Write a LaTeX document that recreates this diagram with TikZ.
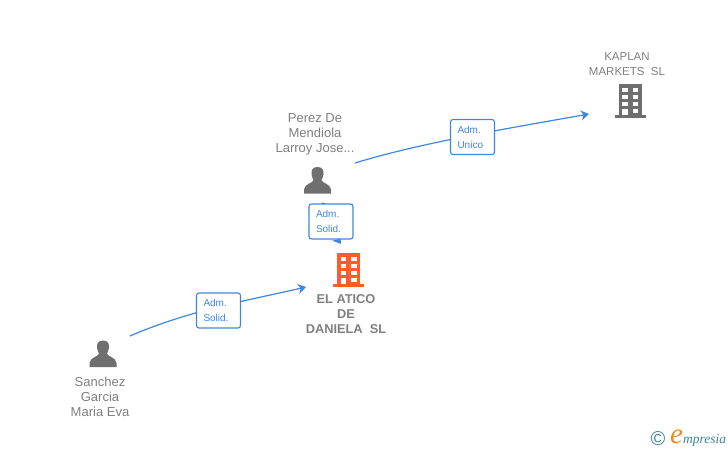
\documentclass[tikz,border=0pt]{standalone}
\usepackage{fontspec}
\setmainfont{Liberation Sans}
\newfontfamily\logofont{Liberation Serif}
\usetikzlibrary{arrows.meta}
\definecolor{linkblue}{HTML}{3F86E0}
\definecolor{txtgray}{HTML}{7F7F7F}
\definecolor{icongray}{HTML}{6F6F6F}
\definecolor{hotorange}{HTML}{FF5C2E}
\definecolor{logoteal}{HTML}{3D8593}
\definecolor{logoorange}{HTML}{F08A1D}
\tikzset{
  x=1pt,y=-1pt,
  edgeline/.style={draw=linkblue,line width=1.2pt,-{Stealth[length=8pt,width=10pt,inset=2.5pt]}},
  badge/.style={draw=linkblue,line width=1.1pt,rounded corners=2.5pt,fill=white,minimum width=44pt,minimum height=35pt,inner sep=0pt,text=linkblue,font=\fontsize{10}{15}\selectfont,align=flush left,text width=30pt},
  lbl/.style={text=txtgray,font=\fontsize{13}{15}\selectfont,align=center,inner sep=0pt},
  lblcap/.style={text=txtgray,font=\fontsize{11.5}{15}\selectfont,align=center,inner sep=0pt},
  lblb/.style={text=txtgray,font=\bfseries\fontsize{12.8}{15}\selectfont,align=center,inner sep=0pt},
  person/.pic={
    \fill[icongray] (0,-13.5) .. controls (-5,-13.5) and (-6.5,-10) .. (-6,-6) .. controls (-5.7,-3.5) and (-4.5,-2) .. (-4,-0.5) .. controls (-4,2.5) and (-13,3) .. (-13.5,9) -- (-13.5,13) -- (13.5,13) -- (13.5,9) .. controls (13,3) and (4,2.5) .. (4,-0.5) .. controls (4.5,-2) and (5.7,-3.5) .. (6,-6) .. controls (6.5,-10) and (5,-13.5) .. (0,-13.5) -- cycle;
  },
  building/.pic={
    \fill[pic actions] (-11.5,-17) rectangle (11.5,14);
    \fill[pic actions] (-15.5,14) rectangle (15.5,17);
    \foreach \cx in {-8,2.5}{
      \foreach \cy in {-13.5,-6.5,0.5}{
        \fill[white] (\cx,\cy) rectangle +(5.5,4.5);
      }
    }
    \fill[white] (2.5,7.5) rectangle +(5.5,4.5);
    \fill[white] (-8,7.5) rectangle (-2.5,14);
  },
}
\begin{document}
\begin{tikzpicture}
\useasboundingbox (0,0) rectangle (728,450);
% named ends
\coordinate (pStart) at (355,163);
\coordinate (kEnd) at (589,114);
\coordinate (sStart) at (130,336);
\coordinate (aEnd) at (306,287);
\coordinate (pDown) at (322,203);
\coordinate (aTop) at (341,244);
% icons
\pic at (317.5,180.5) {person};
\pic at (103,354) {person};
\pic[fill=icongray] at (630,101) {building};
\pic[fill=hotorange] at (348.5,270) {building};
% labels
\node[lbl] (perez) at (315,134) {Perez De\\Mendiola\\Larroy Jose...};
\node[lblcap] (kaplan) at (627,64) {KAPLAN\\MARKETS\ \ SL};
\node[lblb] (atico) at (346,314.5) {EL ATICO\\DE\\DANIELA\ \ SL};
\node[lbl] (sanchez) at (100,397) {Sanchez\\Garcia\\Maria Eva};
% connectors
\draw[edgeline] (pStart) .. controls (420,143) and (510,128) .. (kEnd);
\draw[edgeline] (sStart) .. controls (190,310) and (250,300) .. (aEnd);
\draw[edgeline] (pDown) .. controls (340,207) and (329,228) .. (aTop);
% badges
\node[badge] (b1) at (472.5,137) {Adm.\\Unico};
\node[badge] (b2) at (331,221.5) {Adm.\\Solid.};
\node[badge] (b3) at (218.5,310.5) {Adm.\\Solid.};
% logo
\node[inner sep=0pt,text=logoteal,font=\fontsize{20}{20}\selectfont] (copy) at (658,439) {©};
\node[inner sep=0pt,anchor=base west,font=\logofont\itshape\fontsize{13.5}{14}\selectfont,text=logoteal] (logo) at (670,443) {\textcolor{logoorange}{\fontsize{29}{29}\selectfont e}mpresia};
\end{tikzpicture}
\end{document}
